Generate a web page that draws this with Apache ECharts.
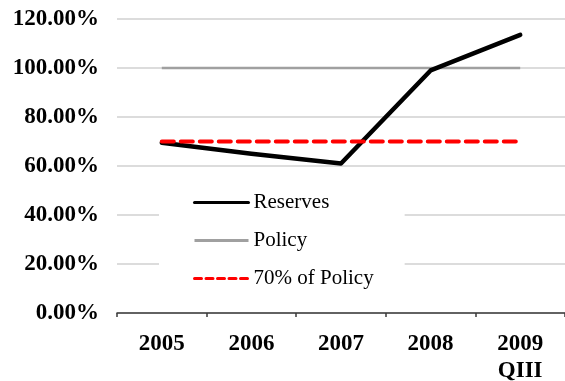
<!DOCTYPE html>
<html>
<head>
<meta charset="utf-8">
<title>Reserves vs Policy</title>
<script src="https://cdn.jsdelivr.net/npm/echarts@6/dist/echarts.min.js"></script>
<style>
  html, body { margin: 0; padding: 0; background: #fff; }
  #chart { width: 565px; height: 381px; }
</style>
</head>
<body>
<div id="chart"></div>
<script>
// Categories (years) and the series values, in percent
const categories = ['2005', '2006', '2007', '2008', '2009\nQIII'];
const reserves = [69.5, 65, 61, 99, 113.5];
const policy = [100, 100, 100, 100, 100];
const policy70 = [70, 70, 70, 70, 70];
const yTicks = { min: 0, max: 120, interval: 20 };

const serif = '"Liberation Serif", "Times New Roman", serif';

const chart = echarts.init(document.getElementById('chart'), null, { renderer: 'canvas' });

// Legend entries show only a line sample, no marker
const noMarker = { opacity: 0 };

chart.setOption({
  animation: false,
  backgroundColor: '#fff',
  grid: { left: 117, right: 0, top: 19, bottom: 68, containLabel: false, outerBoundsMode: 'none' },
  legend: {
    orient: 'vertical',
    left: 159,
    top: 177,
    padding: [15, 31, 18, 34],
    backgroundColor: '#fff',
    itemWidth: 54,
    itemHeight: 14,
    itemGap: 17,
    selectedMode: false,
    textStyle: { fontFamily: serif, fontSize: 21, color: '#000', lineHeight: 20 },
    data: [
      { name: 'Reserves', itemStyle: noMarker, lineStyle: { width: 3, color: '#000', type: 'solid' } },
      { name: 'Policy', itemStyle: noMarker, lineStyle: { width: 3, color: '#a0a0a0', type: 'solid' } },
      { name: '70% of Policy', itemStyle: noMarker, lineStyle: { width: 3, color: '#ff0000', type: [7, 4.5] } }
    ]
  },
  xAxis: {
    type: 'category',
    data: categories,
    boundaryGap: true,
    axisLine: { show: true, lineStyle: { color: '#3a3a3a', width: 1.5 } },
    axisTick: { show: true, length: 4, inside: false, alignWithLabel: false, lineStyle: { color: '#3a3a3a', width: 1.5 } },
    axisLabel: {
      margin: 18,
      fontFamily: serif,
      fontSize: 23,
      fontWeight: 'bold',
      color: '#000',
      lineHeight: 27,
      interval: 0
    },
    splitLine: { show: false }
  },
  yAxis: {
    type: 'value',
    min: yTicks.min,
    max: yTicks.max,
    interval: yTicks.interval,
    axisLine: { show: false },
    axisTick: { show: false },
    axisLabel: {
      margin: 18,
      fontFamily: serif,
      fontSize: 23,
      fontWeight: 'bold',
      color: '#000',
      formatter: v => v.toFixed(2) + '%'
    },
    splitLine: { show: true, lineStyle: { color: '#d0d0d0', width: 1.5 } }
  },
  series: [
    {
      name: 'Reserves',
      type: 'line',
      data: reserves,
      symbol: 'none',
      showSymbol: false,
      z: 3,
      lineStyle: { color: '#000', width: 4.5, join: 'round', cap: 'round' },
      itemStyle: { color: '#000' }
    },
    {
      name: 'Policy',
      type: 'line',
      data: policy,
      symbol: 'none',
      showSymbol: false,
      z: 2,
      lineStyle: { color: '#a0a0a0', width: 2.5 },
      itemStyle: { color: '#a0a0a0' }
    },
    {
      name: '70% of Policy',
      type: 'line',
      data: policy70,
      symbol: 'none',
      showSymbol: false,
      z: 4,
      lineStyle: { color: '#ff0000', width: 4, type: [12, 7], cap: 'round' },
      itemStyle: { color: '#ff0000' }
    }
  ]
});
</script>
</body>
</html>
